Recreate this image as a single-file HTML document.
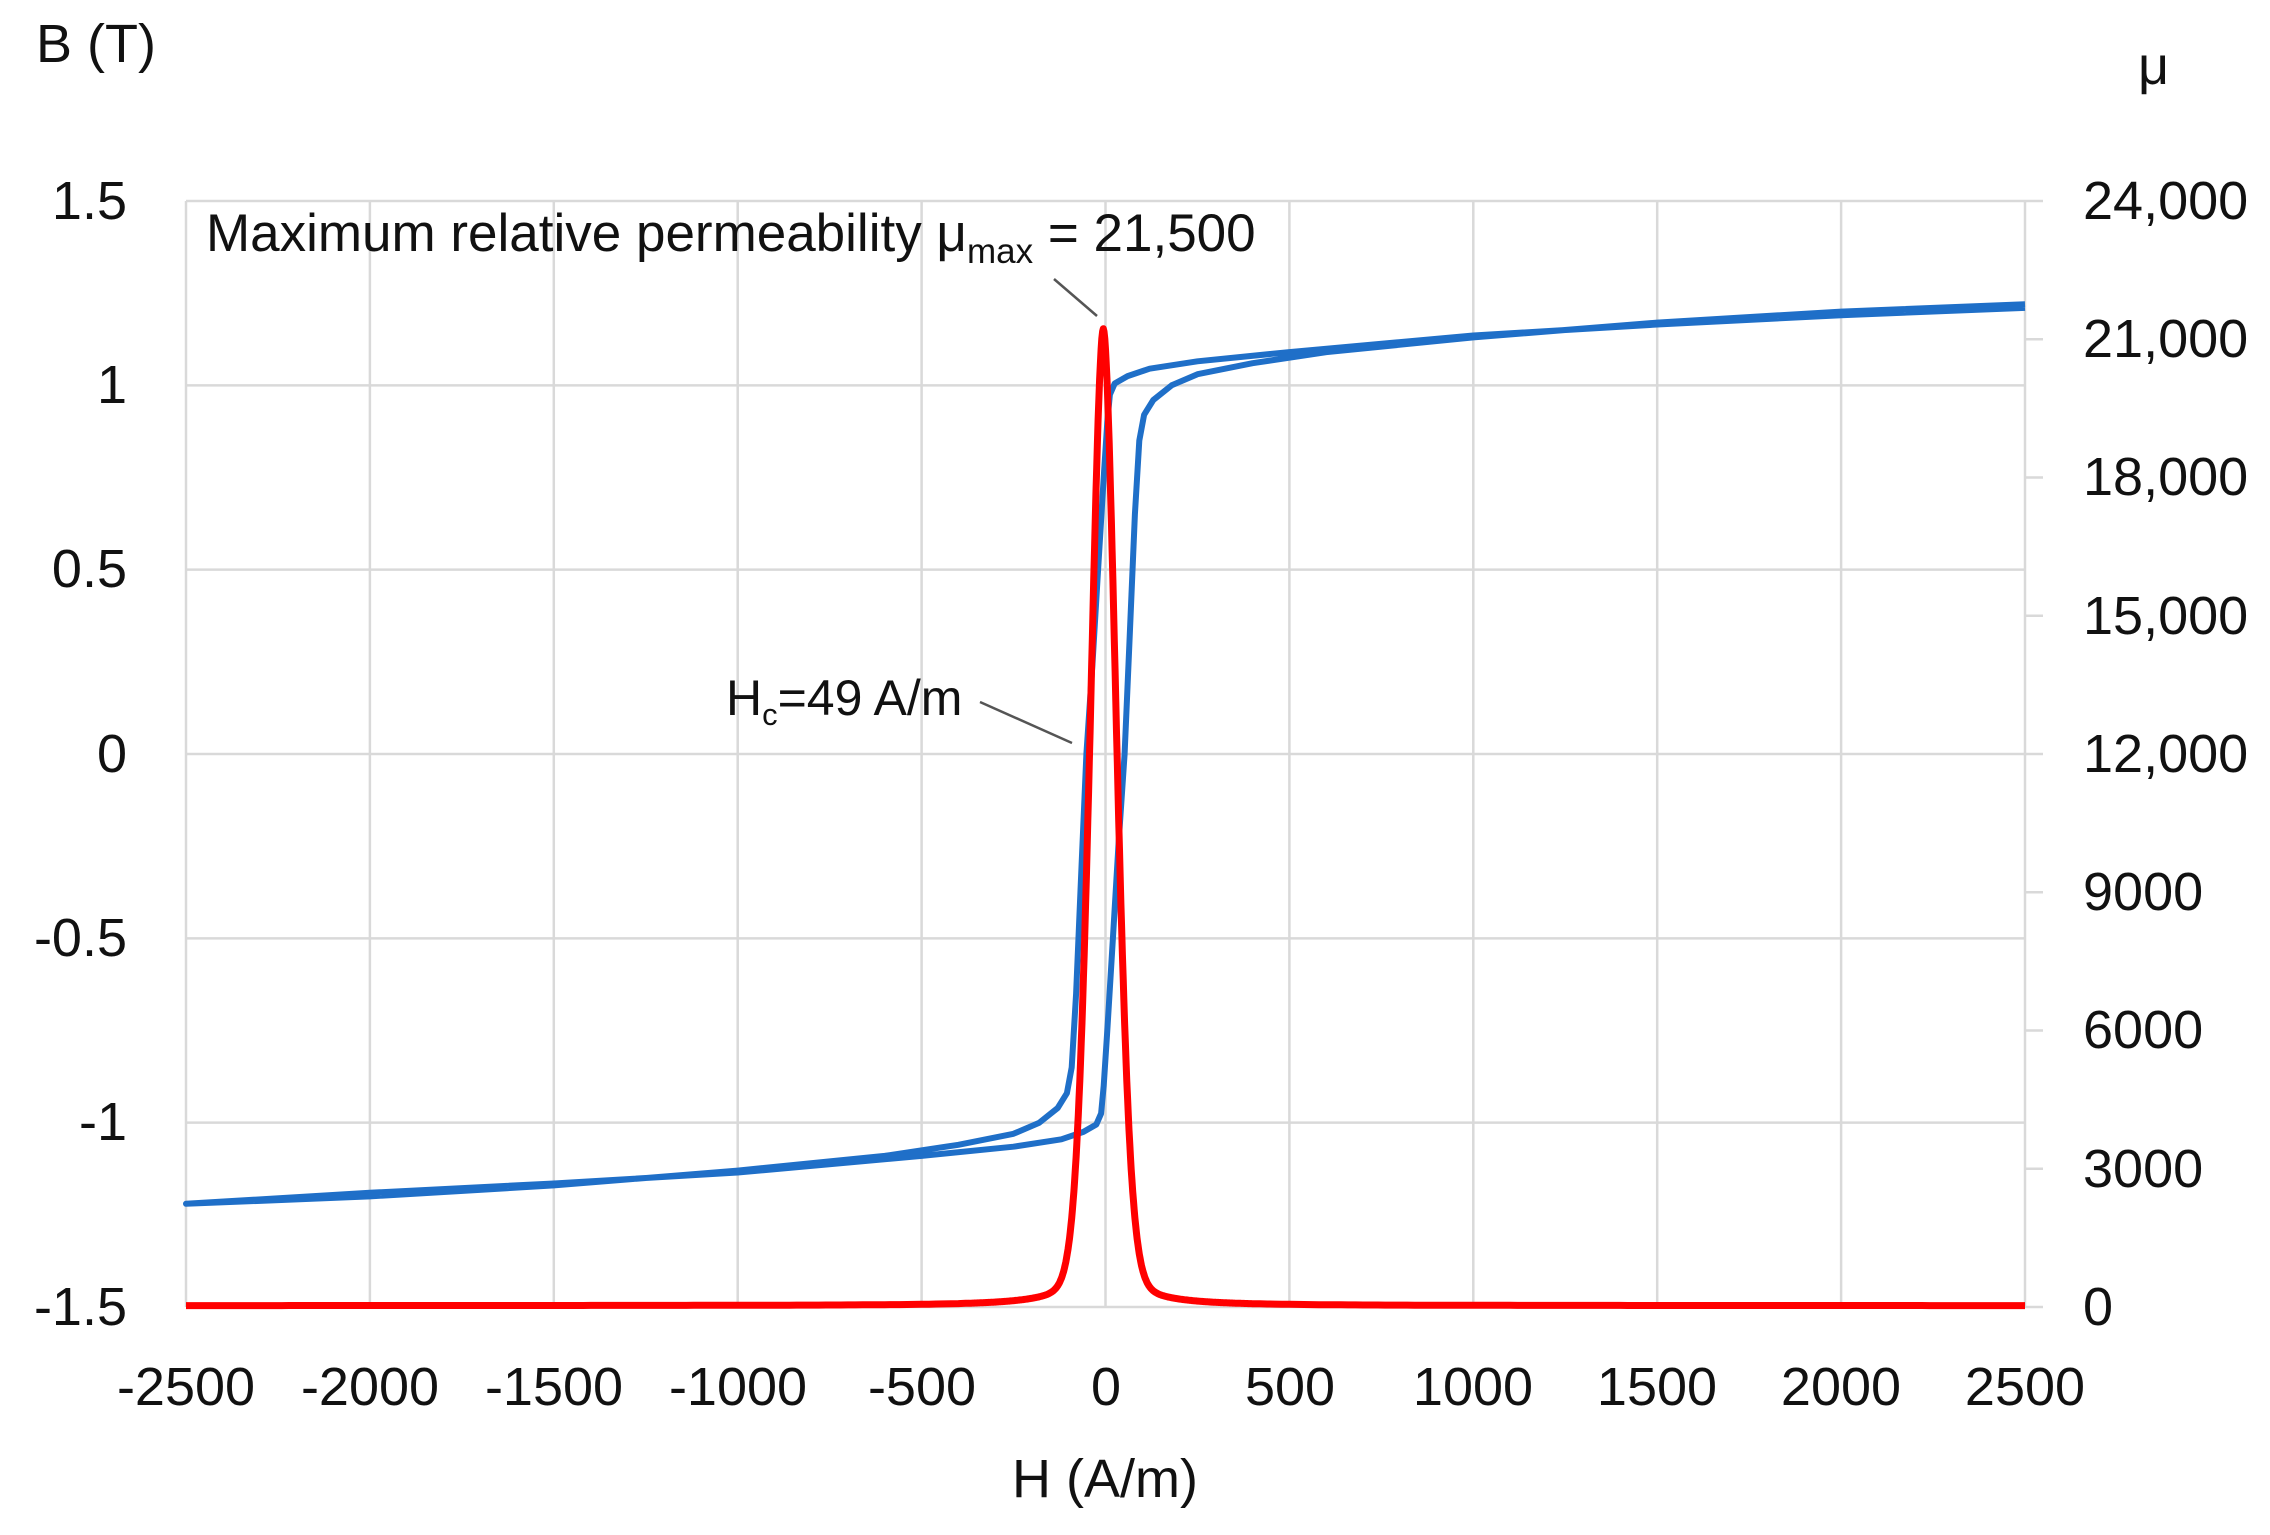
<!DOCTYPE html>
<html><head><meta charset="utf-8"><style>
html,body{margin:0;padding:0;background:#fff;}
svg{display:block;font-family:"Liberation Sans",sans-serif;}
</style></head><body>
<svg id="s" width="2270" height="1535" viewBox="0 0 2270 1535" xmlns="http://www.w3.org/2000/svg">
<g id="grid" stroke="#d9d9d9" stroke-width="2.5" fill="none"></g>
<g font-size="54" fill="#111">
<text x="36" y="62">B (T)</text>
<text x="2138" y="84">μ</text>
<g text-anchor="end">
<text x="127" y="219">1.5</text>
<text x="127" y="403">1</text>
<text x="127" y="587">0.5</text>
<text x="127" y="772">0</text>
<text x="127" y="956">-0.5</text>
<text x="127" y="1140">-1</text>
<text x="127" y="1325">-1.5</text>
</g>
<g>
<text x="2083" y="219">24,000</text>
<text x="2083" y="357">21,000</text>
<text x="2083" y="495">18,000</text>
<text x="2083" y="634">15,000</text>
<text x="2083" y="772">12,000</text>
<text x="2083" y="910">9000</text>
<text x="2083" y="1048">6000</text>
<text x="2083" y="1187">3000</text>
<text x="2083" y="1325">0</text>
</g>
<g text-anchor="middle">
<text x="186" y="1405">-2500</text>
<text x="370" y="1405">-2000</text>
<text x="554" y="1405">-1500</text>
<text x="738" y="1405">-1000</text>
<text x="922" y="1405">-500</text>
<text x="1106" y="1405">0</text>
<text x="1290" y="1405">500</text>
<text x="1473" y="1405">1000</text>
<text x="1657" y="1405">1500</text>
<text x="1841" y="1405">2000</text>
<text x="2025" y="1405">2500</text>
<text x="1105" y="1497">H (A/m)</text>
</g>
<text x="206" y="251" font-size="53">Maximum relative permeability μ<tspan font-size="35" dy="12">max</tspan><tspan dy="-12"> = 21,500</tspan></text>
<text x="726" y="715" font-size="50">H<tspan font-size="31" dy="10">c</tspan><tspan dy="-10">=49 A/m</tspan></text>
</g>
<line x1="1054" y1="279" x2="1097" y2="316" stroke="#555" stroke-width="2.5"/>
<line x1="980" y1="702" x2="1072" y2="743" stroke="#555" stroke-width="2.5"/>
<path id="blue" fill="none" stroke="#1f6fc8" stroke-width="6" stroke-linejoin="round"/>
<path id="red" fill="none" stroke="#ff0000" stroke-width="7" stroke-linejoin="round"/>
</svg>
<script>
var X=function(h){return 1105.5+h*0.3678;};
var YB=function(b){return 754-b*368.7;};
var YM=function(m){return 1307-m/24000*1106;};
var g=document.getElementById('grid'),s='';
for(var i=0;i<=10;i++){var x=186+i*183.9;s+='<line x1="'+x+'" y1="201" x2="'+x+'" y2="1307"/>';}
for(var j=0;j<=6;j++){var y=201+j*184.33;s+='<line x1="186" y1="'+y+'" x2="2025" y2="'+y+'"/>';}
for(var k=0;k<=8;k++){var y2=201+k*138.25;s+='<line x1="2025" y1="'+y2+'" x2="2043" y2="'+y2+'"/>';}
g.innerHTML=s;
var d=[[2500,1.21],[2000,1.19],[1500,1.165],[1000,1.135],[500,1.09],[250,1.065],[120,1.045],[60,1.025],[25,1.005],[12,0.975],[5,0.9],[-5,0.75],[-20,0.5],[-35,0.25],[-52,0],[-65,-0.3],[-80,-0.65],[-92,-0.85],[-105,-0.92],[-130,-0.96],[-180,-1.0],[-250,-1.03],[-400,-1.06],[-600,-1.09],[-1000,-1.13],[-1500,-1.17],[-2000,-1.2],[-2500,-1.22]];
var p='M';
d.forEach(function(q,i){p+=(i?' L':'')+X(q[0]).toFixed(1)+' '+YB(q[1]).toFixed(1);});
for(var i=1;i<d.length;i++){p+=' L'+X(-d[i][0]).toFixed(1)+' '+YB(-d[i][1]).toFixed(1);}
document.getElementById('blue').setAttribute('d',p);
var r='';
for(var h=-2500;h<=2500;h+=(Math.abs(h)<400?2:20)){
 var u=h+6;
 var m=20300*Math.exp(-Math.pow(Math.abs(u)/50,1.8))+900/(1+Math.pow(u/90,2))+30;
 r+=(r?' L':'M')+X(h).toFixed(1)+' '+YM(m).toFixed(1);
}
document.getElementById('red').setAttribute('d',r);
</script>
</body></html>
